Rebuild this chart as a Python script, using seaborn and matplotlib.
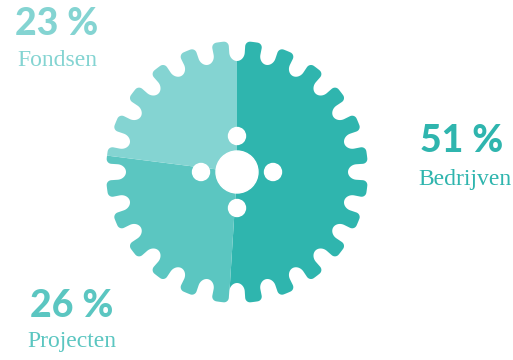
import numpy as np
import matplotlib
matplotlib.use("Agg")
import matplotlib.pyplot as plt
import seaborn as sns
from matplotlib.path import Path
from matplotlib.patches import PathPatch, Circle

# ---- data ----
categories = ["Bedrijven", "Projecten", "Fondsen"]
shares = [51, 26, 23]
pct_labels = ["51 %", "26 %", "23 %"]
colors = ["#2fb5ae", "#5bc6c1", "#84d4d2"]

sns.set_theme(style="white")
plt.rcParams["font.family"] = ["DejaVu Sans"]

W, H = 513, 360
fig = plt.figure(figsize=(W / 100, H / 100), dpi=100)
ax = fig.add_axes([0, 0, 1, 1])

cx, cy, R = 237, 188, 131

wedges, _ = ax.pie(shares, colors=colors, startangle=90, counterclock=False,
                   center=(cx, cy), radius=R + 6,
                   wedgeprops=dict(linewidth=0), frame=True)

# ---- gear outline used as clip path ----
N = 24
hw, D, rc = 8.5, 20.0, 5.0
arc_len = R * 2 * np.pi / N


def notch_profile():
    pts = []
    c1 = (-(hw + rc), rc)
    for a in np.linspace(-np.pi / 2, 0, 10):
        pts.append((c1[0] + rc * np.cos(a), c1[1] + rc * np.sin(a)))
    for t in np.linspace(rc, D - hw, 5)[1:]:
        pts.append((-hw, t))
    for a in np.linspace(np.pi, 0, 24)[1:]:
        pts.append((hw * np.cos(a), D - hw + hw * np.sin(a)))
    for t in np.linspace(D - hw, rc, 5)[1:]:
        pts.append((hw, t))
    c2 = (hw + rc, rc)
    for a in np.linspace(np.pi, 1.5 * np.pi, 10)[1:]:
        pts.append((c2[0] + rc * np.cos(a), c2[1] + rc * np.sin(a)))
    for s in np.linspace(hw + rc, arc_len - (hw + rc), 8)[1:-1]:
        pts.append((s, 0.0))
    return pts


prof = notch_profile()
verts = []
for k in range(N):
    phi = 2 * np.pi * k / N
    for s, t in prof:
        ang = phi + s / R
        r = R - t
        verts.append((cx + r * np.cos(ang), cy + r * np.sin(ang)))
verts.append(verts[0])
codes = [Path.MOVETO] + [Path.LINETO] * (len(verts) - 2) + [Path.CLOSEPOLY]
gear = PathPatch(Path(verts, codes), transform=ax.transData,
                 facecolor="none", edgecolor="none")
ax.add_patch(gear)
for w in wedges:
    w.set_clip_on(True)
    w.set_clip_path(gear)

# ---- holes ----
ax.add_patch(Circle((cx, cy), 21, color="white", zorder=5))
for dx, dy in [(0, 36), (0, -36), (36, 0), (-36, 0)]:
    ax.add_patch(Circle((cx + dx, cy + dy), 8.5, color="white", zorder=5))

# ---- labels ----
num_font = dict(family=["Lato", "DejaVu Sans"], weight=900, size=27)
name_font = dict(family=["Liberation Serif", "DejaVu Serif"], size=17)

label_pos = {
    "Bedrijven": ((462, 208), (465, 175)),
    "Projecten": ((72, 43), (72, 13)),
    "Fondsen": ((57, 325), (57, 294)),
}
for cat, pct, col in zip(categories, pct_labels, colors):
    (px, py), (nx, ny) = label_pos[cat]
    ax.text(px, py, pct, color=col, ha="center", va="baseline", **num_font)
    ax.text(nx, ny, cat, color=col, ha="center", va="baseline", **name_font)

ax.set_xlim(0, W)
ax.set_ylim(0, H)
ax.set_aspect("auto")
ax.axis("off")

fig.savefig("out.png", dpi=100, facecolor="white")
